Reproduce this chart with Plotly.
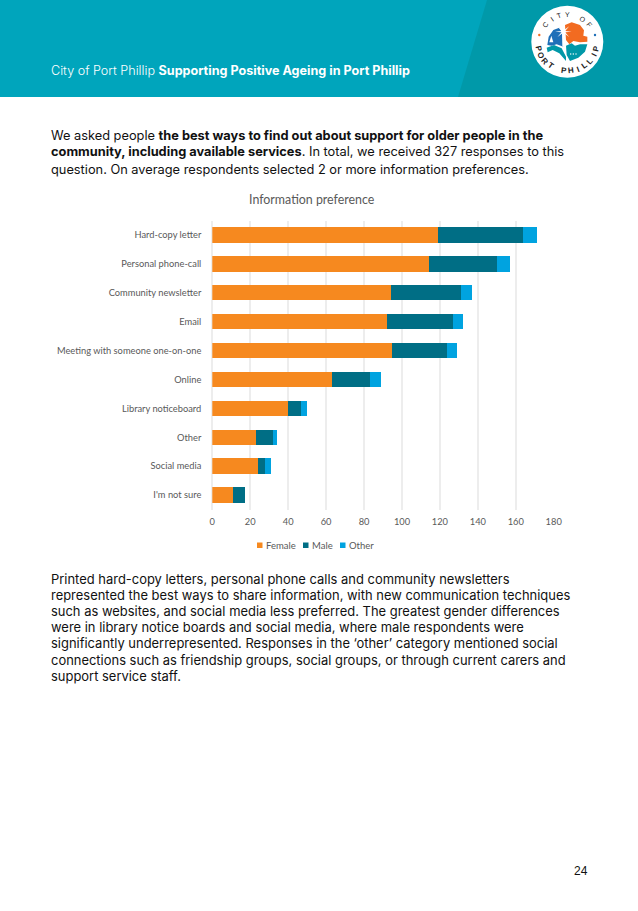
import math
import plotly.graph_objects as go

categories = ["Hard-copy letter", "Personal phone-call", "Community newsletter", "Email",
              "Meeting with someone one-on-one", "Online", "Library noticeboard", "Other",
              "Social media", "I'm not sure"]
female = [119, 114, 94, 92, 95, 63, 40, 23, 24, 11]
male = [45, 36, 37, 35, 29, 20, 7, 9, 4, 6]
other = [7, 7, 6, 5, 5, 6, 3, 2, 3, 0]
x_ticks = [0, 20, 40, 60, 80, 100, 120, 140, 160, 180]
chart_title = "Information preference"
header_plain = "City of Port Phillip "
header_bold = "Supporting Positive Ageing in Port Phillip"
intro_lines = [
    "We asked people <b>the best ways to find out about support for older people in the</b>",
    "<b>community, including available services</b>. In total, we received 327 responses to this",
    "question. On average respondents selected 2 or more information preferences.",
]
body_lines = [
    "Printed hard-copy letters, personal phone calls and community newsletters",
    "represented the best ways to share information, with new communication techniques",
    "such as websites, and social media less preferred. The greatest gender differences",
    "were in library notice boards and social media, where male respondents were",
    "significantly underrepresented. Responses in the ‘other’ category mentioned social",
    "connections such as friendship groups, social groups, or through current carers and",
    "support service staff.",
]
page_number = "24"
series = [("Female", female, "#F6891F"), ("Male", male, "#006E85"), ("Other", other, "#00A3E0")]

W, H = 638, 911
TEXT_FONT = "Inter"
CHART_FONT = "Lato"
GREY = "#595959"


def px(x):
    return x / W


def py(y):
    return 1 - y / H


def pts(points):
    return "M" + " L".join(f"{px(a):.5f},{py(b):.5f}" for a, b in points) + " Z"


def rect(x0, y0, x1, y1, color, layer="above"):
    return dict(type="rect", xref="paper", yref="paper", layer=layer,
                x0=px(x0), x1=px(x1), y0=py(y1), y1=py(y0), fillcolor=color, line_width=0)


def circle(cx, cy, r, color):
    return dict(type="circle", xref="paper", yref="paper", layer="above",
                x0=px(cx - r), x1=px(cx + r), y0=py(cy + r), y1=py(cy - r),
                fillcolor=color, line_width=0)


def poly(points, color, layer="above"):
    return dict(type="path", xref="paper", yref="paper", layer=layer,
                path=pts(points), fillcolor=color, line_width=0)


def logo(points, color):
    # logo outlines are traced on a 75 px crop enlarged three times
    return poly([(a / 3 + 530, b / 3 + 5) for a, b in points], color)


def note(x, y, text, size, color="#111111", anchor="left", font=TEXT_FONT, angle=0):
    return dict(xref="paper", yref="paper", x=px(x), y=py(y), text=text, showarrow=False,
                xanchor=anchor, yanchor="middle", textangle=angle,
                font=dict(family=font, size=size, color=color))


fig = go.Figure()
for name, values, color in series:
    fig.add_bar(name=name, y=categories, x=values, orientation="h", marker=dict(color=color, line_width=0))

LCX, LCY = 567.3, 41.7
palm_star = []
for k in range(16):
    ang = math.radians(k * 22.5)
    rad = 25 if k % 2 == 0 else 6
    palm_star.append((100 + rad * math.cos(ang), 80 + rad * 0.9 * math.sin(ang)))

shapes = [
    rect(0, 0, W, 97, "#00A5BC", "below"),
    poly([(487, 0), (638, 0), (638, 97), (458, 97)], "#0099A9", "below"),
    circle(LCX, LCY, 36, "#FFFFFF"),
    logo([(52, 120), (56, 95), (70, 75), (88, 68), (100, 90), (100, 125), (80, 118), (65, 122)], "#1E6FB8"),
    logo([(64, 92), (70, 112), (58, 112)], "#FFFFFF"),
    logo([(105, 60), (125, 52), (150, 60), (162, 76), (160, 92), (172, 95), (172, 110), (150, 112),
          (130, 108), (118, 118), (108, 105)], "#F26B21"),
    logo([(96, 85), (103, 85), (104, 125), (97, 125)], "#FFFFFF"),
    logo(palm_star, "#FFFFFF"),
    logo([(108, 122), (125, 115), (135, 122), (150, 118), (172, 118), (165, 140), (145, 158), (120, 168),
          (110, 150)], "#0098A8"),
    logo([(50, 128), (72, 120), (95, 130), (108, 155), (108, 168), (88, 145), (68, 135), (53, 142)], "#0098A8"),
    circle(570.7, 54, 0.7, "#FFFFFF"),
    circle(573.3, 54, 0.7, "#FFFFFF"),
    circle(576, 54, 0.7, "#FFFFFF"),
    circle(539.3, 35, 1.2, "#F26B21"),
    circle(595, 35, 1.2, "#1E6FB8"),
]

logo_text = []
for i, ch in enumerate("CITY OF"):
    a = math.radians(-52 + i * 17.3)
    logo_text.append(note(LCX + 27.5 * math.sin(a), LCY - 27.5 * math.cos(a), ch, 7, "#222222", "center",
                          "Liberation Sans", math.degrees(a)))
for i, ch in enumerate("PORT PHILLIP"):
    a = math.radians(77 - i * 14)
    logo_text.append(note(LCX - 29.5 * math.sin(a), LCY + 29.5 * math.cos(a), f"<b>{ch}</b>", 8, "#222222", "center",
                          "Liberation Sans", math.degrees(a)))

annotations = [
    note(49, 71, f"<span style='font-weight:300'>{header_plain}</span><b>{header_bold}</b>", 12.6, "#FFFFFF"),
    note(312, 199, chart_title, 12.4, GREY, "center", CHART_FONT),
    note(581, 871, page_number, 12, "#111111", "center", "Liberation Sans"),
]
for i, line in enumerate(intro_lines):
    annotations.append(note(49, 135 + i * 17, line, 12.8))
for i, line in enumerate(body_lines):
    annotations.append(note(49, 578.5 + i * 16.2, line, 12.95))

# compact key below the chart
key_x = [257, 303, 340]
for (name, _, color), kx in zip(series, key_x):
    shapes.append(rect(kx, 542.5, kx + 5.5, 548, color))
    annotations.append(note(kx + 6.5, 545.2, name, 9.5, GREY, "left", CHART_FONT))

fig.update_layout(
    width=W, height=H, autosize=False, barmode="stack", bargap=0.47, showlegend=False,
    margin=dict(l=0, r=0, t=0, b=0, pad=0, autoexpand=False), paper_bgcolor="#FFFFFF", plot_bgcolor="#FFFFFF",
    font=dict(family=CHART_FONT, size=9.3, color=GREY),
    xaxis=dict(domain=[px(212.3), px(553.7)], range=[0, 180], tickvals=x_ticks,
               gridcolor="#EDEDED", gridwidth=1.5, zeroline=True, zerolinecolor="#EDEDED", zerolinewidth=1.5,
               showline=False, ticks="", anchor="y", ticklabelstandoff=5, tickfont=dict(size=9.3, color=GREY)),
    yaxis=dict(domain=[py(509.5), py(220.5)], autorange="reversed", showgrid=False, ticks="", showline=False,
               ticklabelstandoff=10, tickfont=dict(size=9.3, color=GREY)),
    shapes=shapes,
    annotations=annotations + logo_text,
)
fig.write_html("out.html", config=dict(displayModeBar=False),
               post_script="document.body.style.margin='0';document.documentElement.style.overflow='hidden';window.dispatchEvent(new Event('resize'));")
